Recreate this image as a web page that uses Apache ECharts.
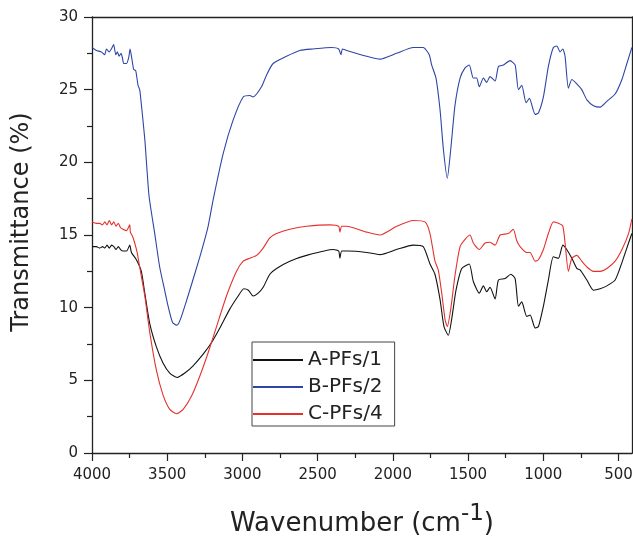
<!DOCTYPE html>
<html>
<head>
<meta charset="utf-8">
<script src="https://cdn.jsdelivr.net/npm/echarts@6/dist/echarts.min.js"></script>
<style>
html,body{margin:0;padding:0;background:#fff;}
#chart{width:633px;height:539px;}
</style>
</head>
<body>
<div id="chart"></div>
<script>
// Series A-PFs/1 (black)
var waveA = [4000,3971,3949,3930,3915,3900,3885,3870,3855,3840,3825,3810,3794,3770,3749,3738,3705,3672,3649,3616,3572,3528,3483,3434,3383,3328,3261,3205,3150,3084,3028,2991,2960,2929,2895,2862,2818,2773,2685,2574,2396,2360,2352,2340,2296,2174,2086,1975,1864,1798,1753,1720,1686,1660,1631,1609,1580,1542,1492,1465,1425,1398,1376,1354,1320,1298,1254,1216,1187,1165,1143,1110,1087,1054,1032,999,966,933,899,870,844,810,777,755,710,666,622,577,522,477,433,411];
var transA = [14.2,14.2,14.1,14.2,14.1,14.3,14.1,14.3,14.2,14.0,14.2,14.0,13.9,13.9,14.3,13.8,13.3,12.5,11.0,8.9,7.3,6.2,5.5,5.2,5.5,6.0,6.8,7.6,8.6,9.9,10.8,11.3,11.2,10.8,11.0,11.4,12.3,12.7,13.2,13.6,14.0,13.9,13.4,13.9,13.9,13.8,13.65,14.0,14.3,14.2,13.0,12.3,10.55,8.7,8.1,9.2,11.2,12.7,13.0,11.8,11.0,11.5,11.1,11.4,10.6,11.9,12.0,12.3,12.0,10.1,10.4,9.4,9.5,8.6,8.7,10.1,11.9,13.5,13.4,14.3,14.0,13.4,12.7,12.6,11.9,11.2,11.3,11.5,11.9,13.1,14.45,15.1];

// Series B-PFs/2 (blue)
var waveB = [4000,3971,3938,3916,3904,3886,3871,3856,3842,3831,3820,3807,3798,3789,3771,3756,3747,3736,3723,3709,3694,3683,3676,3649,3621,3583,3550,3517,3494,3465,3438,3425,3405,3377,3350,3283,3228,3195,3128,3062,2995,2951,2929,2873,2840,2796,2707,2618,2531,2407,2360,2345,2335,2307,2174,2086,1975,1864,1798,1758,1742,1713,1686,1664,1638,1615,1587,1553,1520,1492,1465,1443,1425,1398,1376,1354,1320,1298,1265,1221,1187,1165,1143,1114,1092,1054,1032,999,966,933,910,888,870,855,833,810,777,744,710,666,622,577,522,477,444,411];
var transB = [27.9,27.7,27.6,27.4,27.8,27.6,27.8,28.1,27.4,27.6,27.3,27.5,27.2,26.8,26.8,27.2,27.8,27.2,26.4,26.3,25.3,25.0,24.4,21.6,17.7,15.1,12.8,11.2,10.1,9.0,8.8,8.9,9.4,10.3,11.2,13.5,15.6,17.4,20.6,22.9,24.5,24.6,24.5,25.2,26.0,26.8,27.3,27.7,27.8,27.9,27.8,27.4,27.8,27.7,27.3,27.1,27.5,27.9,27.9,27.4,26.7,25.8,23.6,20.9,18.9,20.9,23.9,25.8,26.5,26.7,25.8,25.8,25.2,25.8,25.5,25.9,25.6,26.6,26.7,27.0,26.7,25.0,25.3,24.1,24.4,23.3,23.4,24.5,26.6,27.9,28.0,27.6,27.8,27.3,25.1,25.7,25.4,25.0,24.3,23.9,23.8,24.2,24.7,25.7,26.8,27.9];

// Series C-PFs/4 (red)
var waveC = [4000,3971,3949,3930,3915,3900,3885,3870,3855,3840,3825,3810,3794,3770,3749,3745,3730,3716,3700,3683,3649,3616,3572,3528,3483,3438,3394,3339,3283,3228,3172,3106,3039,2995,2951,2906,2862,2818,2773,2685,2574,2418,2360,2352,2340,2307,2174,2086,1975,1864,1786,1753,1720,1698,1675,1653,1638,1615,1587,1553,1520,1487,1465,1425,1387,1354,1320,1287,1232,1199,1176,1154,1110,1087,1054,1032,999,966,933,899,870,855,833,810,777,744,710,666,622,577,522,477,433,411];
var transC = [15.9,15.8,15.8,15.7,15.9,15.7,16.0,15.7,15.9,15.6,15.8,15.5,15.4,15.3,15.7,15.2,14.9,14.45,13.8,12.8,10.8,8.3,5.7,4.0,3.0,2.7,3.0,3.9,5.3,6.9,8.7,10.8,12.5,13.2,13.4,13.6,14.1,14.8,15.1,15.4,15.6,15.7,15.6,15.2,15.6,15.6,15.2,15.0,15.6,16.0,15.9,15.1,13.2,12.6,11.0,9.2,8.7,9.9,12.2,14.2,14.7,15.0,14.45,14.0,14.45,14.5,14.3,15.0,15.1,15.4,14.6,14.2,13.8,13.8,13.2,13.3,14.0,15.1,15.9,15.8,15.6,14.45,12.5,13.4,13.6,13.2,12.8,12.5,12.5,12.7,13.2,14.0,15.1,16.1];

var seriesNames = ['A-PFs/1','B-PFs/2','C-PFs/4'];
var xMajorTicks = [4000,3500,3000,2500,2000,1500,1000,500];
var xMinorTicks = [3750,3250,2750,2250,1750,1250,750];

function pairs(xs, ys){ var out=[]; for(var i=0;i<xs.length;i++){ out.push([xs[i], ys[i]]); } return out; }

var FONT = 'DejaVu Sans';
var chart = echarts.init(document.getElementById('chart'), null, {renderer:'canvas'});
var axisColor = '#222';
function plain(v){ return String(v); }

var option = {
  animation: false,
  backgroundColor: '#fff',
  grid: {left: 92, right: 1, top: 17, bottom: 86, containLabel: false, outerBoundsMode: 'none'},
  legend: {
    orient: 'vertical',
    left: 252, top: 342,
    padding: [8, 12, 2, 1],
    itemGap: 7,
    itemWidth: 50, itemHeight: 2,
    icon: 'rect',
    borderColor: '#444', borderWidth: 1,
    backgroundColor: '#fff',
    textStyle: {fontFamily: FONT, fontSize: 20, lineHeight: 20, color: '#222'},
    data: seriesNames
  },
  xAxis: [
    {
      type: 'value', min: 410, max: 4000, inverse: true, position: 'bottom',
      name: '{a|Wavenumber (cm}{s|-1}{a|)}',
      nameLocation: 'middle', nameGap: 50,
      nameTextStyle: {
        rich: {
          a: {fontFamily: FONT, fontSize: 26, lineHeight: 42, color: '#222'},
          s: {fontFamily: FONT, fontSize: 23, lineHeight: 24, verticalAlign: 'top', color: '#222'}
        }
      },
      axisLine: {show: true, onZero: false, lineStyle: {color: axisColor, width: 1.3}},
      axisTick: {show: true, inside: false, length: 8, customValues: xMajorTicks, lineStyle: {color: axisColor, width: 1.2}},
      axisLabel: {show: true, customValues: xMajorTicks, formatter: plain, margin: 15, fontFamily: FONT, fontSize: 15, color: '#222'},
      splitLine: {show: false}
    },
    {
      type: 'value', min: 410, max: 4000, inverse: true, position: 'bottom',
      axisLine: {show: false},
      axisTick: {show: true, length: 5, customValues: xMinorTicks, lineStyle: {color: axisColor, width: 1.2}},
      axisLabel: {show: false},
      splitLine: {show: false}
    },
    {
      type: 'value', min: 410, max: 4000, inverse: true, position: 'top',
      axisLine: {show: true, onZero: false, lineStyle: {color: axisColor, width: 1.3}},
      axisTick: {show: false}, axisLabel: {show: false}, splitLine: {show: false}
    }
  ],
  yAxis: [
    {
      type: 'value', min: 0, max: 30, interval: 5, position: 'left',
      axisLine: {show: true, onZero: false, lineStyle: {color: axisColor, width: 1.3}},
      axisTick: {show: true, inside: false, length: 8, lineStyle: {color: axisColor, width: 1.2}},
      minorTick: {show: true, splitNumber: 2, length: 5, lineStyle: {color: axisColor, width: 1.2}},
      axisLabel: {margin: 14, formatter: plain, fontFamily: FONT, fontSize: 15, color: '#222'},
      splitLine: {show: false}
    },
    {
      type: 'value', min: 0, max: 30, position: 'right',
      axisLine: {show: true, onZero: false, lineStyle: {color: axisColor, width: 1.3}},
      axisTick: {show: false}, axisLabel: {show: false}, splitLine: {show: false}
    }
  ],
  graphic: [
    {
      type: 'text', x: 22, y: 222, rotation: Math.PI / 2,
      style: {text: 'Transmittance (%)', fontFamily: FONT, fontSize: 24, fill: '#222', textAlign: 'center', textVerticalAlign: 'middle'}
    }
  ],
  series: [
    {name: seriesNames[0], type: 'line', xAxisIndex: 0, yAxisIndex: 0, data: pairs(waveA, transA), symbol: 'none', smooth: 0.2, lineStyle: {color: '#111', width: 1.1}, itemStyle: {color: '#111'}},
    {name: seriesNames[1], type: 'line', xAxisIndex: 0, yAxisIndex: 0, data: pairs(waveB, transB), symbol: 'none', smooth: 0.2, lineStyle: {color: '#2f45a5', width: 1.1}, itemStyle: {color: '#2f45a5'}},
    {name: seriesNames[2], type: 'line', xAxisIndex: 0, yAxisIndex: 0, data: pairs(waveC, transC), symbol: 'none', smooth: 0.2, lineStyle: {color: '#e5312c', width: 1.1}, itemStyle: {color: '#e5312c'}}
  ]
};
chart.setOption(option);
</script>
</body>
</html>
